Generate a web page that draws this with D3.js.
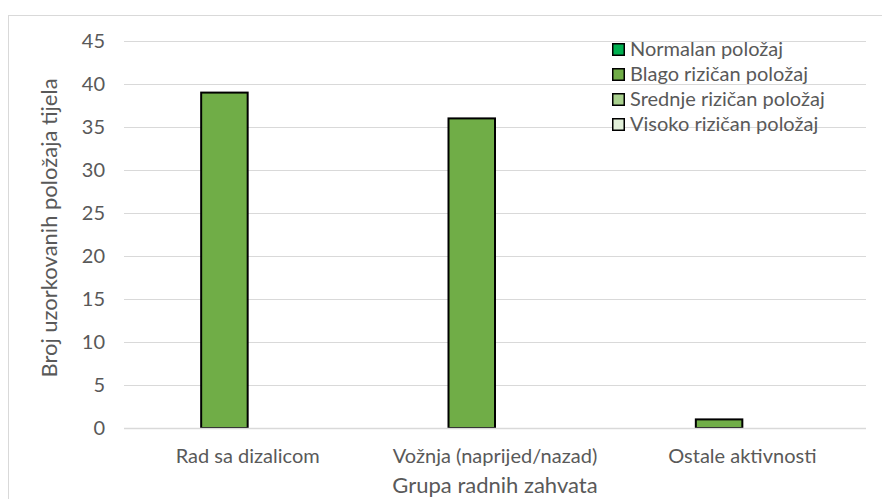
<!DOCTYPE html>
<html><head><meta charset="utf-8">
<script src="https://cdn.jsdelivr.net/npm/d3@7"></script>
<style>
html,body{margin:0;padding:0;background:#fff;}
svg{display:block;font-family:Lato, "Open Sans", sans-serif;}
</style></head>
<body>
<svg id="chart" width="882" height="499"></svg>
<script>
const categories = ["Rad sa dizalicom", "Vožnja (naprijed/nazad)", "Ostale aktivnosti"];
const seriesNames = ["Normalan položaj", "Blago rizičan položaj", "Srednje rizičan položaj", "Visoko rizičan položaj"];
const seriesColors = ["#00B050", "#70AD47", "#A9D18E", "#E2F0D9"];
const normalan = [0, 0, 0];
const blago = [39, 36, 1];
const srednje = [0, 0, 0];
const visoko = [0, 0, 0];
const yTicks = [0, 5, 10, 15, 20, 25, 30, 35, 40, 45];
const xTitle = "Grupa radnih zahvata";
const yTitle = "Broj uzorkovanih položaja tijela";

const seriesValues = [normalan, blago, srednje, visoko];
const svg = d3.select("#chart");
const W = 882, H = 499;
const m = {left: 124, right: 16, top: 41, bottom: 71};
const plotR = W - m.right, plotB = H - m.bottom;
const textColor = "#595959";

// chart border
svg.append("rect").attr("x", 8.5).attr("y", 15.5).attr("width", W + 10).attr("height", H + 10)
  .attr("fill", "none").attr("stroke", "#D9D9D9").attr("stroke-width", 1);

const y = d3.scaleLinear().domain([0, 45]).range([plotB, m.top]);
const x0 = d3.scaleBand().domain(categories).range([m.left, plotR]).padding(0);
const slot = x0.bandwidth() * 0.188;
const x1 = d3.scaleBand().domain(seriesNames)
  .range([x0.bandwidth() / 2 - 2 * slot, x0.bandwidth() / 2 + 2 * slot]).padding(0);

// gridlines
svg.append("g").selectAll("line").data(yTicks.filter(d => d > 0)).join("line")
  .attr("x1", m.left).attr("x2", plotR)
  .attr("y1", d => Math.round(y(d)) + 0.5).attr("y2", d => Math.round(y(d)) + 0.5)
  .attr("stroke", "#D9D9D9").attr("stroke-width", 1);

// y axis labels
const yAxis = d3.axisLeft(y).tickValues(yTicks).tickSize(0).tickPadding(0);
const yg = svg.append("g").attr("transform", `translate(${m.left - 19},0)`).call(yAxis);
yg.select(".domain").remove();
yg.selectAll("text").attr("font-size", 20).attr("fill", textColor).attr("font-family", "Lato");

// bars
const data = [];
categories.forEach((c, i) => seriesNames.forEach((s, j) => data.push({c, s, v: seriesValues[j][i], color: seriesColors[j]})));
svg.append("g").selectAll("rect").data(data.filter(d => d.v > 0)).join("rect")
  .attr("x", d => x0(d.c) + x1(d.s))
  .attr("y", d => y(d.v))
  .attr("width", x1.bandwidth())
  .attr("height", d => y(0) - y(d.v))
  .attr("fill", d => d.color)
  .attr("stroke", "#000").attr("stroke-width", 2);

// x axis line
svg.append("line").attr("x1", m.left).attr("x2", plotR)
  .attr("y1", Math.round(y(0)) + 0.5).attr("y2", Math.round(y(0)) + 0.5)
  .attr("stroke", "#D9D9D9").attr("stroke-width", 1.5);

// x axis labels
const xAxis = d3.axisBottom(x0).tickSize(0).tickPadding(0);
const xg = svg.append("g").attr("transform", `translate(0,${plotB + 35})`).call(xAxis);
xg.select(".domain").remove();
xg.selectAll("text").attr("font-size", 20).attr("fill", textColor).attr("dy", 0).attr("font-family", "Lato");

// axis titles
svg.append("text").attr("x", (m.left + plotR) / 2).attr("y", 493).attr("text-anchor", "middle")
  .attr("font-size", 22).attr("fill", textColor).text(xTitle);
svg.append("text").attr("transform", `translate(57,228) rotate(-90)`)
  .attr("text-anchor", "middle").attr("font-size", 22).attr("fill", textColor).text(yTitle);

// legend
const lg = svg.append("g").attr("transform", "translate(612,49)");
const rows = lg.selectAll("g").data(seriesNames).join("g")
  .attr("transform", (d, i) => `translate(0,${i * 25})`);
rows.append("rect").attr("x", 0.75).attr("y", -5.25).attr("width", 11.5).attr("height", 11.5)
  .attr("fill", (d, i) => seriesColors[i]).attr("stroke", "#000").attr("stroke-width", 1.5);
rows.append("text").attr("x", 18).attr("y", 7).attr("font-size", 20).attr("fill", textColor).text(d => d);
</script>
</body></html>
